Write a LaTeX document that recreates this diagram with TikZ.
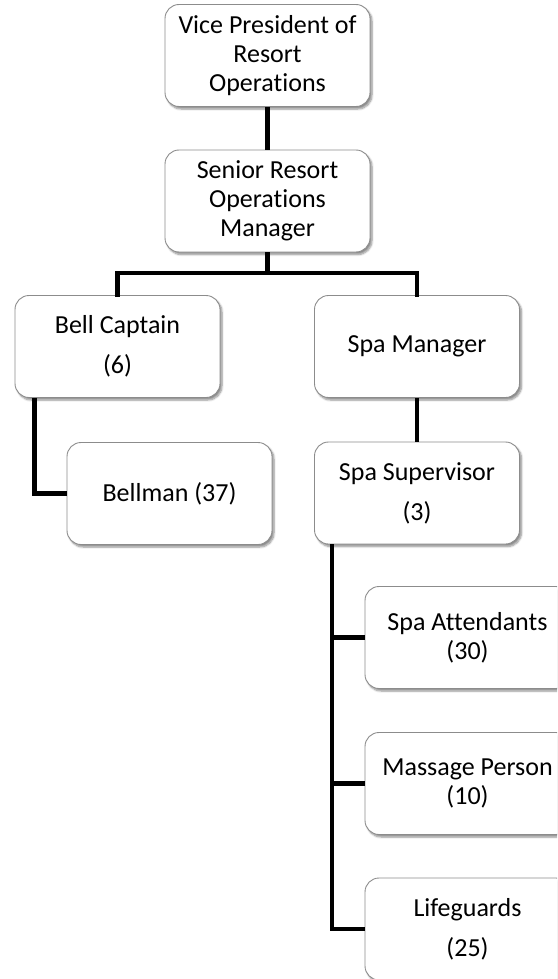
\documentclass[tikz,border=0pt]{standalone}
\usepackage{fontspec}
\setmainfont{Carlito}[Ligatures={NoCommon,NoContextual}]
\usetikzlibrary{shadows.blur}
\tikzset{
  orgbox/.style={draw=black!45, line width=0.9pt, fill=white, rounded corners=14pt,
    minimum width=205pt, minimum height=102pt, inner sep=0pt, align=center,
    font=\fontsize{26pt}{29pt}\selectfont,
    blur shadow={shadow xshift=2pt, shadow yshift=-2.5pt, shadow blur steps=6, shadow blur extra rounding=2pt, shadow opacity=45}},
  link/.style={line width=4.5pt, black}
}
\begin{document}
\begin{tikzpicture}[x=1pt,y=-1pt]
\useasboundingbox (0,0) rectangle (557,979);
\clip (0,0) rectangle (557,979);
\coordinate (bar) at (267.5,273);
\coordinate (bl) at (117.5,273);
\coordinate (br) at (417,273);
\node[orgbox] (vp) at (267.5,55.5) {Vice President of\\Resort\\Operations};
\node[orgbox] (sr) at (267.5,201) {Senior Resort\\Operations\\Manager};
\node[orgbox] (bc) at (117.5,346.5) {Bell Captain\\[11pt](6)};
\node[orgbox] (sm) at (417,346.5) {Spa Manager};
\node[orgbox] (bm) at (169.5,493.5) {Bellman (37)};
\node[orgbox] (ss) at (417,493) {Spa Supervisor\\[11pt](3)};
\node[orgbox] (sa) at (467.5,637.5) {Spa Attendants\\(30)};
\node[orgbox] (mp) at (467.5,783.5) {Massage Person\\(10)};
\node[orgbox] (lg) at (467.5,929) {Lifeguards\\[11pt](25)};
\coordinate (bcdrop) at ([xshift=20pt]bc.south west);
\coordinate (ssdrop) at ([xshift=18pt]ss.south west);
\draw[link] (vp.south) -- (sr.north);
\draw[link] (sr.south) -- (bar);
\draw[link, line cap=rect] (bc.north) -- (bl) -- (br) -- (sm.north);
\draw[link] (sm.south) -- (ss.north);
\draw[link, line join=miter] (bcdrop) |- (bm.west);
\draw[link] (ssdrop) |- (sa.west);
\draw[link] (ssdrop) |- (mp.west);
\draw[link, line join=miter] (ssdrop) |- (lg.west);
\end{tikzpicture}
\end{document}
